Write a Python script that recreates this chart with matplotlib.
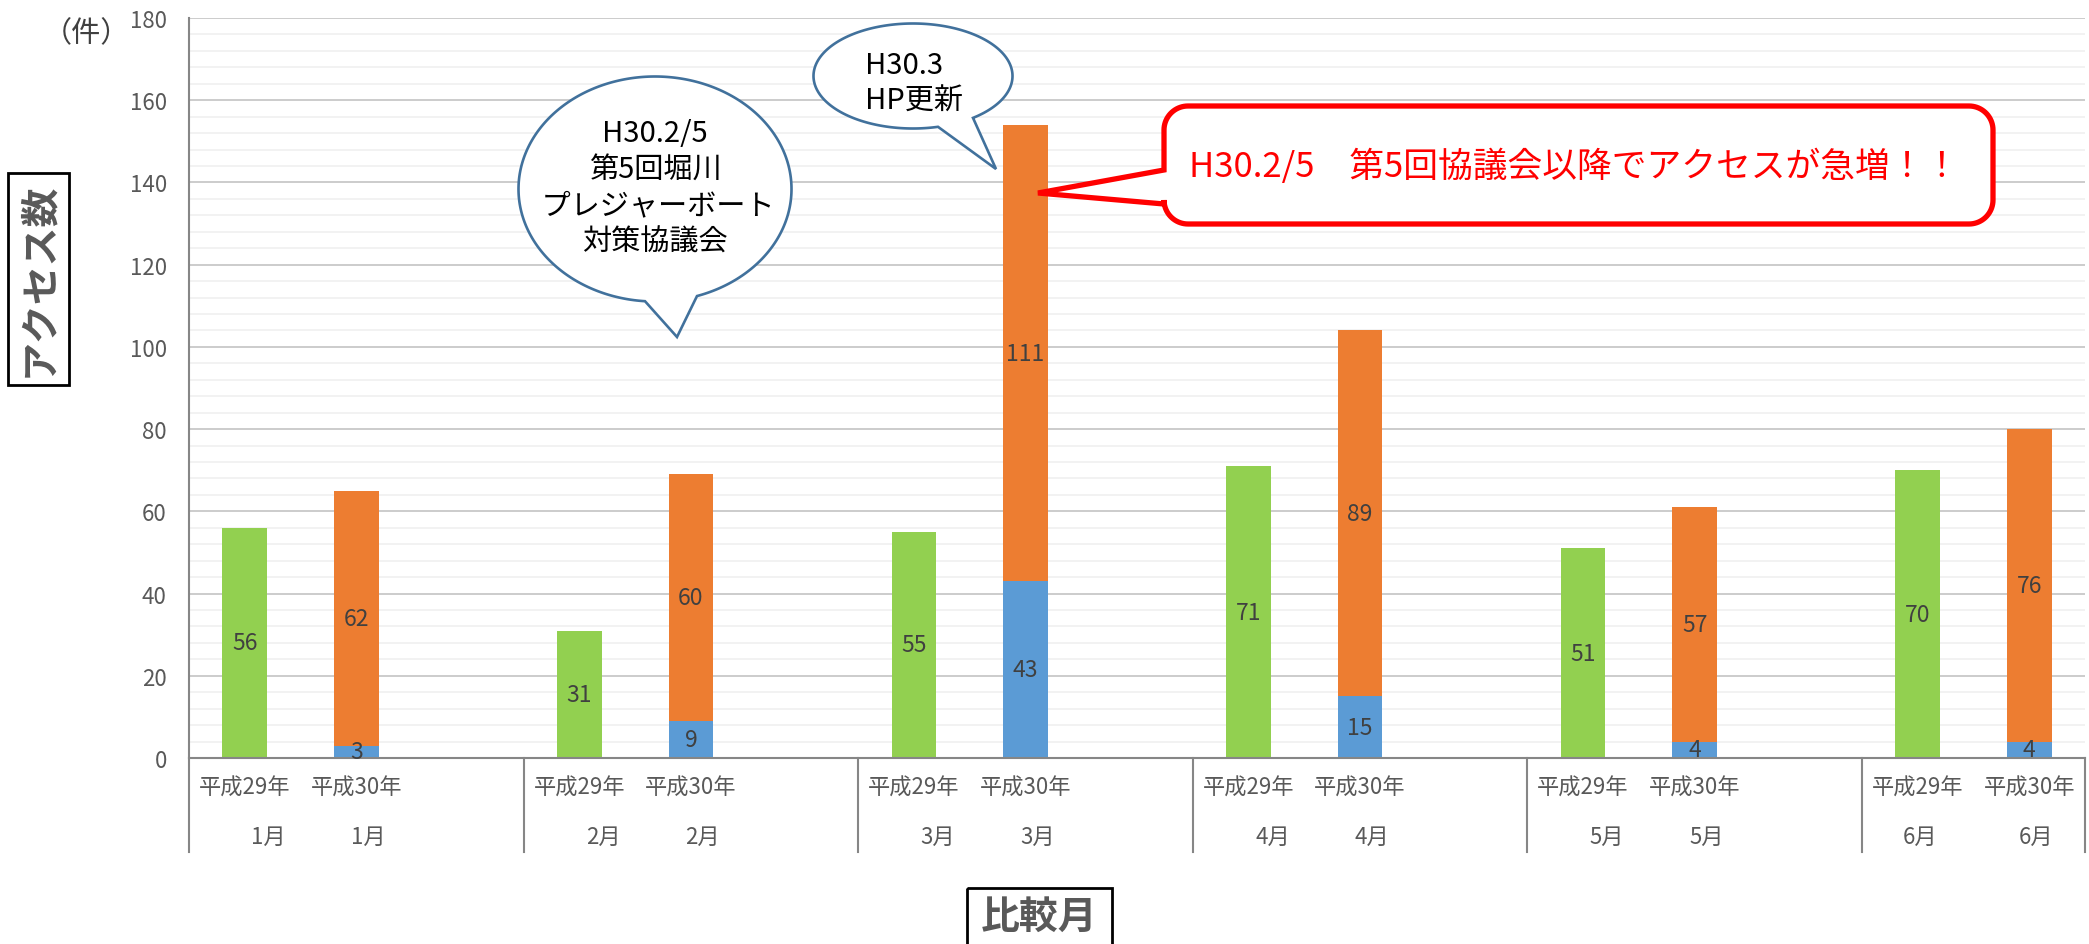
import numpy as np
import matplotlib
matplotlib.use('Agg')
import matplotlib.pyplot as plt
from matplotlib.patches import Polygon, Rectangle
from matplotlib.transforms import Affine2D, blended_transform_factory

plt.rcParams['font.family'] = ['Noto Sans CJK JP', 'DejaVu Sans']

# ---------------- data ----------------
months = ['1月', '2月', '3月', '4月', '5月', '6月']
year_labels = ['平成29年', '平成30年']
h29 = [56, 31, 55, 71, 51, 70]
h30_blue = [3, 9, 43, 15, 4, 4]
h30_orange = [62, 60, 111, 89, 57, 76]
y_max = 180
y_major = 20
y_minor = 4

# ---------------- figure ----------------
W, H = 2089, 945
fig = plt.figure(figsize=(W / 100, H / 100), dpi=100)
PX = Affine2D().scale(1 / W, -1 / H).translate(0, 1) + fig.transFigure

ax_l, ax_r, ax_t, ax_b = 189, 2085, 19, 759
ax = fig.add_axes([ax_l / W, 1 - ax_b / H, (ax_r - ax_l) / W, (ax_b - ax_t) / H])

n_groups = len(months)
slots_per_group = 3
x29 = [slots_per_group * i for i in range(n_groups)]
x30 = [slots_per_group * i + 1 for i in range(n_groups)]
n_slots = slots_per_group * n_groups - 1

bw = 0.40
green, blue, orange = '#92D050', '#5B9BD5', '#ED7D31'
b1 = ax.bar(x29, h29, bw, color=green, zorder=2)
b2 = ax.bar(x30, h30_blue, bw, color=blue, zorder=2)
b3 = ax.bar(x30, h30_orange, bw, bottom=h30_blue, color=orange, zorder=2)
for c in (b1, b2, b3):
    ax.bar_label(c, label_type='center', fontsize=16.5, color='#404040')

ax.set_xlim(-0.5, n_slots - 0.5)
ax.set_ylim(0, y_max)
ax.set_yticks(range(0, y_max + 1, y_major))
ax.set_yticks(range(0, y_max + 1, y_minor), minor=True)
ax.yaxis.grid(True, which='major', color='#BFBFBF', lw=1.1)
ax.yaxis.grid(True, which='minor', color='#EFEFEF', lw=1.1)
ax.set_axisbelow(True)
ax.tick_params(axis='y', which='both', length=0, labelsize=16,
               labelcolor='#595959', pad=16)
ax.tick_params(axis='y', which='minor', labelleft=False)

ax.set_xticks(x29 + x30)
ax.set_xticklabels([year_labels[0]] * n_groups + [year_labels[1]] * n_groups)
ax.tick_params(axis='x', length=0, labelsize=16, labelcolor='#595959', pad=13)

for s in ('top', 'right'):
    ax.spines[s].set_visible(False)
for s in ('left', 'bottom'):
    ax.spines[s].set_color('#868686')
    ax.spines[s].set_linewidth(1.5)

# group separators below axis
bt = blended_transform_factory(ax.transData, ax.transAxes)
depth = (853 - ax_b) / (ax_b - ax_t)
seps = [slots_per_group * i - 0.5 for i in range(n_groups)] + [n_slots - 0.5]
for xs in seps:
    ax.plot([xs, xs], [0, -depth], transform=bt, color='#868686', lw=1.5,
            clip_on=False, zorder=3)

# month labels (second row), pixel offsets as rendered in the original
month_dx = [(24, 12)] * (n_groups - 1) + [(2, 7)]
for i, m in enumerate(months):
    for xx, dx in ((x29[i], month_dx[i][0]), (x30[i], month_dx[i][1])):
        ax.annotate(m, xy=(xx, 0), xycoords=bt,
                    xytext=(dx * 0.72, -(837 - ax_b) * 0.72),
                    textcoords='offset points', ha='center', va='center',
                    fontsize=16, color='#595959')

# ---------------- axis titles ----------------
fig.text(86, 34, '（件）', transform=PX, ha='center', va='center',
         fontsize=21, color='#404040')
fig.add_artist(Rectangle((8, 174), 61, 212, transform=PX, fill=False,
                         ec='black', lw=2))
fig.text(39, 280, 'アクセス数', transform=PX, rotation=90, ha='center',
         va='center', fontsize=28, fontweight='bold', color='#595959')
fig.add_artist(Rectangle((967, 889), 145, 80, transform=PX, fill=False,
                         ec='black', lw=2))
fig.text(1039, 917, '比較月', transform=PX, ha='center', va='center',
         fontsize=28, fontweight='bold', color='#595959')


# ---------------- callouts ----------------
def ellipse_callout(cx, cy, a, b, bx_left, bx_right, tip):
    t_left = np.arccos((bx_left - cx) / a)
    t_right = np.arccos((bx_right - cx) / a)
    ts = np.linspace(t_left, t_right + 2 * np.pi, 300)
    pts = list(zip(cx + a * np.cos(ts), cy + b * np.sin(ts)))
    pts.append(tip)
    return Polygon(pts, closed=True, transform=PX, fc='white',
                   ec='#41719C', lw=1.9, joinstyle='miter')


fig.add_artist(ellipse_callout(655, 190, 136.5, 112.5, 645, 697, (677, 338)))
fig.add_artist(ellipse_callout(913, 77, 99.5, 52.5, 938, 973, (996, 170)))

fig.text(655, 188, 'H30.2/5\n第5回堀川\n プレジャーボート\n対策協議会',
         transform=PX, ha='center', va='center', multialignment='center',
         fontsize=21, linespacing=1.27, color='black')
fig.text(865, 84, 'H30.3\nHP更新', transform=PX, ha='left', va='center',
         multialignment='left', fontsize=21, linespacing=1.25, color='black')


def rounded_callout(x0, y0, x1, y1, r, yb_top, yb_bot, tip):
    pts = [(x0, yb_bot)]

    def arc(cx, cy, th0, th1):
        th = np.linspace(th0, th1, 20)
        return list(zip(cx + r * np.cos(th), cy + r * np.sin(th)))

    pts += arc(x0 + r, y1 - r, np.pi, np.pi / 2)
    pts += arc(x1 - r, y1 - r, np.pi / 2, 0)
    pts += arc(x1 - r, y0 + r, 0, -np.pi / 2)
    pts += arc(x0 + r, y0 + r, -np.pi / 2, -np.pi)
    pts.append((x0, yb_top))
    pts.append(tip)
    return Polygon(pts, closed=True, transform=PX, fc='white', ec='#FF0000',
                   lw=3.8, joinstyle='miter')


fig.add_artist(rounded_callout(1164, 107, 1993, 225, 24, 171, 205, (1038, 194)))
fig.text(1189, 167, 'H30.2/5　第5回協議会以降でアクセスが急増！！',
         transform=PX, ha='left', va='center', fontsize=25, color='#FF0000')

fig.savefig('out.png', dpi=100)
